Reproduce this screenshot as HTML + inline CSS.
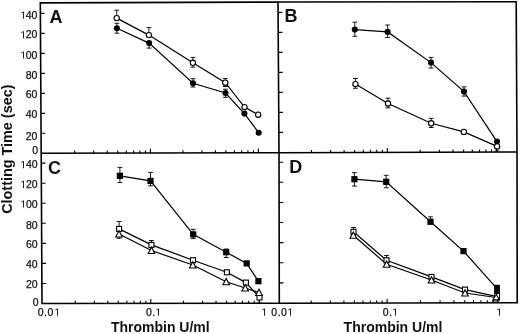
<!DOCTYPE html>
<html><head><meta charset="utf-8"><style>
html,body{margin:0;padding:0;background:#fff;width:520px;height:334px;overflow:hidden}
svg{display:block;filter:grayscale(1)}
text{font-family:"Liberation Sans",sans-serif}
</style></head><body>
<svg width="520" height="334" viewBox="0 0 520 334">
<rect width="520" height="334" fill="#fff"/>
<g font-family="Liberation Sans, sans-serif" fill="#111" stroke="#111" stroke-width="0.25"><text x="25.72 31.56" y="18.80" font-size="10.5">40</text><text x="25.72 31.56" y="38.40" font-size="10.5">20</text><text x="25.72 31.56" y="58.60" font-size="10.5">00</text><text x="25.72 31.56" y="78.50" font-size="10.5">80</text><text x="25.72 31.56" y="98.00" font-size="10.5">60</text><text x="25.72 31.56" y="118.00" font-size="10.5">40</text><text x="25.72 31.56" y="139.50" font-size="10.5">20</text><text x="32.36" y="154.30" font-size="10.5">0</text><text x="26.02 31.86" y="168.30" font-size="10.5">40</text><text x="26.02 31.86" y="188.00" font-size="10.5">20</text><text x="26.02 31.86" y="207.60" font-size="10.5">00</text><text x="26.02 31.86" y="228.90" font-size="10.5">80</text><text x="26.02 31.86" y="248.20" font-size="10.5">60</text><text x="26.02 31.86" y="268.20" font-size="10.5">40</text><text x="26.02 31.86" y="288.40" font-size="10.5">20</text><text x="32.76" y="305.60" font-size="10.5">0</text><text x="37.73 44.07 47.49" y="315.80" font-size="10.5">0.0</text><text x="145.90 152.24" y="315.80" font-size="10.5">0.</text><text x="271.33 277.67 281.09" y="315.80" font-size="10.5">0.0</text><text x="382.80 389.14" y="315.80" font-size="10.5">0.</text><text x="49.60" y="22.80" font-size="18" text-anchor="start" font-weight="bold" stroke="none">A</text><text x="284.60" y="21.60" font-size="18" text-anchor="start" font-weight="bold" stroke="none">B</text><text x="48.00" y="173.60" font-size="18" text-anchor="start" font-weight="bold" stroke="none">C</text><text x="289.20" y="173.00" font-size="18" text-anchor="start" font-weight="bold" stroke="none">D</text><text x="160.30" y="331.90" font-size="14" text-anchor="middle" font-weight="bold" stroke="none">Thrombin U/ml</text><text x="393.00" y="331.50" font-size="14" text-anchor="middle" font-weight="bold" stroke="none">Thrombin U/ml</text><text x="0" y="0" font-size="14.4" font-weight="bold" stroke="none" text-anchor="middle" transform="translate(11.8,149.2) rotate(-90)">Clotting Time (sec)</text></g>
<g fill="#111" stroke="#111" stroke-width="0.25"><path transform="translate(20.28,18.80) scale(0.005127,-0.005127)" d="M530,0 L530,1237 L197,1010 L197,1180 L540,1409 L711,1409 L711,0 Z"/><path transform="translate(20.28,38.40) scale(0.005127,-0.005127)" d="M530,0 L530,1237 L197,1010 L197,1180 L540,1409 L711,1409 L711,0 Z"/><path transform="translate(20.28,58.60) scale(0.005127,-0.005127)" d="M530,0 L530,1237 L197,1010 L197,1180 L540,1409 L711,1409 L711,0 Z"/><path transform="translate(20.28,168.30) scale(0.005127,-0.005127)" d="M530,0 L530,1237 L197,1010 L197,1180 L540,1409 L711,1409 L711,0 Z"/><path transform="translate(20.28,188.00) scale(0.005127,-0.005127)" d="M530,0 L530,1237 L197,1010 L197,1180 L540,1409 L711,1409 L711,0 Z"/><path transform="translate(20.28,207.60) scale(0.005127,-0.005127)" d="M530,0 L530,1237 L197,1010 L197,1180 L540,1409 L711,1409 L711,0 Z"/><path transform="translate(54.28,315.80) scale(0.005127,-0.005127)" d="M530,0 L530,1237 L197,1010 L197,1180 L540,1409 L711,1409 L711,0 Z"/><path transform="translate(155.28,315.80) scale(0.005127,-0.005127)" d="M530,0 L530,1237 L197,1010 L197,1180 L540,1409 L711,1409 L711,0 Z"/><path transform="translate(261.28,315.80) scale(0.005127,-0.005127)" d="M530,0 L530,1237 L197,1010 L197,1180 L540,1409 L711,1409 L711,0 Z"/><path transform="translate(287.28,315.80) scale(0.005127,-0.005127)" d="M530,0 L530,1237 L197,1010 L197,1180 L540,1409 L711,1409 L711,0 Z"/><path transform="translate(392.28,315.80) scale(0.005127,-0.005127)" d="M530,0 L530,1237 L197,1010 L197,1180 L540,1409 L711,1409 L711,0 Z"/><path transform="translate(496.28,315.80) scale(0.005127,-0.005127)" d="M530,0 L530,1237 L197,1010 L197,1180 L540,1409 L711,1409 L711,0 Z"/></g>
<path d="M41.08,133.31L45.28,133.31M40.96,113.33L45.16,113.33M40.84,93.34L45.04,93.34M40.72,73.36L44.92,73.36M40.60,53.37L44.80,53.37M40.48,33.38L44.68,33.38M40.36,13.40L44.56,13.40M278.87,132.40L283.07,132.40M278.73,112.40L282.93,112.40M278.60,92.40L282.80,92.40M278.47,72.40L282.67,72.40M278.33,52.40L282.53,52.40M278.20,32.40L282.40,32.40M278.07,12.40L282.27,12.40M41.89,283.45L46.09,283.45M41.79,263.40L45.99,263.40M41.68,243.35L45.88,243.35M41.57,223.30L45.77,223.30M41.47,203.25L45.67,203.25M41.36,183.20L45.56,183.20M41.25,163.15L45.45,163.15M279.26,282.89L283.46,282.89M279.22,262.77L283.42,262.77M279.18,242.66L283.38,242.66M279.14,222.54L283.34,222.54M279.10,202.43L283.30,202.43M279.06,182.32L283.26,182.32M279.02,162.20L283.22,162.20M74.63,153.22L74.63,150.62M93.72,153.17L93.72,150.57M107.26,153.13L107.26,150.53M117.77,153.11L117.77,150.51M126.35,153.09L126.35,150.49M133.61,153.07L133.61,150.47M139.89,153.05L139.89,150.45M145.44,153.04L145.44,150.44M150.40,153.02L150.40,148.72M182.91,152.94L182.91,150.34M201.93,152.89L201.93,150.29M215.42,152.86L215.42,150.26M225.89,152.83L225.89,150.23M234.44,152.81L234.44,150.21M241.67,152.79L241.67,150.19M247.93,152.78L247.93,150.18M253.46,152.76L253.46,150.16M258.40,152.75L258.40,148.45M311.46,152.60L311.46,150.00M330.57,152.55L330.57,149.95M344.12,152.51L344.12,149.91M354.64,152.48L354.64,149.88M363.23,152.45L363.23,149.85M370.49,152.43L370.49,149.83M376.79,152.41L376.79,149.81M382.34,152.40L382.34,149.80M387.30,152.38L387.30,148.08M420.17,152.28L420.17,149.68M439.40,152.23L439.40,149.63M453.04,152.19L453.04,149.59M463.63,152.16L463.63,149.56M472.27,152.13L472.27,149.53M479.58,152.11L479.58,149.51M485.92,152.09L485.92,149.49M491.50,152.07L491.50,149.47M496.50,152.06L496.50,147.76M75.31,303.46L75.31,300.86M94.33,303.43L94.33,300.83M107.82,303.42L107.82,300.82M118.29,303.40L118.29,300.80M126.84,303.39L126.84,300.79M134.07,303.38L134.07,300.78M140.33,303.38L140.33,300.78M145.86,303.37L145.86,300.77M150.80,303.36L150.80,299.06M183.43,303.32L183.43,300.72M202.52,303.30L202.52,300.70M216.06,303.28L216.06,300.68M226.57,303.27L226.57,300.67M235.15,303.26L235.15,300.66M242.41,303.25L242.41,300.65M248.69,303.24L248.69,300.64M254.24,303.23L254.24,300.63M259.20,303.23L259.20,298.93M311.19,303.15L311.19,300.55M330.32,303.11L330.32,300.51M343.88,303.09L343.88,300.49M354.41,303.07L354.41,300.47M363.01,303.06L363.01,300.46M370.28,303.05L370.28,300.45M376.58,303.04L376.58,300.44M382.13,303.03L382.13,300.43M387.10,303.02L387.10,298.72M420.51,302.96L420.51,300.36M440.06,302.93L440.06,300.33M453.93,302.91L453.93,300.31M464.69,302.89L464.69,300.29M473.47,302.87L473.47,300.27M480.91,302.86L480.91,300.26M487.34,302.85L487.34,300.25M493.02,302.84L493.02,300.24M498.10,302.83L498.10,298.53" stroke="#000" stroke-width="1.1" fill="none"/>
<path d="M40.3,2.9 L278.0,2.05 L516.2,1.75 L517.0,152.0 L517.2,302.8 L279.3,303.2 L42.0,303.5 L41.2,153.3 Z M41.2,153.3 L279.0,152.7 L517.0,152.0 M278.0,2.05 L279.0,152.7 L279.3,303.2" fill="none" stroke="#000" stroke-width="1.6" stroke-linejoin="miter"/>
<g><path d="M116.70,18.10 L148.90,35.10 L192.90,62.80 L225.30,82.70 L244.50,107.10 L258.20,114.70" fill="none" stroke="#000" stroke-width="1.2"/><path d="M116.90,28.30 L149.10,43.10 L193.00,83.20 L225.50,93.00 L244.40,113.60 L258.70,132.70" fill="none" stroke="#000" stroke-width="1.2"/><path d="M354.80,29.60 L387.60,31.90 L431.00,62.60 L464.00,91.60 L497.00,141.60" fill="none" stroke="#000" stroke-width="1.2"/><path d="M355.40,84.10 L388.00,103.50 L431.20,123.30 L463.90,131.90 L497.10,146.40" fill="none" stroke="#000" stroke-width="1.2"/><path d="M119.90,175.80 L150.50,180.90 L193.20,234.40 L226.20,252.20 L246.70,263.40 L258.40,281.20" fill="none" stroke="#000" stroke-width="1.2"/><path d="M119.10,228.90 L151.40,244.90 L193.00,260.20 L226.90,272.30 L245.90,282.60 L259.50,297.50" fill="none" stroke="#000" stroke-width="1.2"/><path d="M119.00,234.00 L151.50,250.50 L192.80,265.00 L226.20,281.70 L245.20,288.00 L259.00,292.50" fill="none" stroke="#000" stroke-width="1.2"/><path d="M354.40,179.20 L386.20,181.80 L430.50,221.80 L463.50,251.10 L497.00,288.70" fill="none" stroke="#000" stroke-width="1.2"/><path d="M353.50,231.80 L386.50,260.30 L431.50,276.90 L465.00,289.60 L497.00,296.60" fill="none" stroke="#000" stroke-width="1.2"/><path d="M353.30,235.30 L386.60,264.30 L431.50,280.00 L465.00,293.00 L496.20,297.50" fill="none" stroke="#000" stroke-width="1.2"/></g>
<path d="M116.70,18.10L116.70,10.20M114.30,10.20L119.10,10.20M148.90,35.10L148.90,27.60M146.50,27.60L151.30,27.60M192.90,62.80L192.90,57.40M190.50,57.40L195.30,57.40M192.90,62.80L192.90,67.20M190.50,67.20L195.30,67.20M225.30,82.70L225.30,78.50M222.90,78.50L227.70,78.50M225.30,82.70L225.30,86.50M222.90,86.50L227.70,86.50M116.90,28.30L116.90,23.30M114.50,23.30L119.30,23.30M116.90,28.30L116.90,33.20M114.50,33.20L119.30,33.20M149.10,43.10L149.10,48.10M146.70,48.10L151.50,48.10M193.00,83.20L193.00,78.70M190.60,78.70L195.40,78.70M193.00,83.20L193.00,87.00M190.60,87.00L195.40,87.00M225.50,93.00L225.50,89.20M223.10,89.20L227.90,89.20M225.50,93.00L225.50,97.30M223.10,97.30L227.90,97.30M354.80,29.60L354.80,22.20M352.40,22.20L357.20,22.20M354.80,29.60L354.80,36.30M352.40,36.30L357.20,36.30M387.60,31.90L387.60,25.00M385.20,25.00L390.00,25.00M387.60,31.90L387.60,37.50M385.20,37.50L390.00,37.50M431.00,62.60L431.00,57.40M428.60,57.40L433.40,57.40M431.00,62.60L431.00,68.10M428.60,68.10L433.40,68.10M464.00,91.60L464.00,86.80M461.60,86.80L466.40,86.80M464.00,91.60L464.00,96.10M461.60,96.10L466.40,96.10M355.40,84.10L355.40,78.50M353.00,78.50L357.80,78.50M355.40,84.10L355.40,88.30M353.00,88.30L357.80,88.30M388.00,103.50L388.00,98.20M385.60,98.20L390.40,98.20M388.00,103.50L388.00,107.80M385.60,107.80L390.40,107.80M431.20,123.30L431.20,118.40M428.80,118.40L433.60,118.40M431.20,123.30L431.20,127.50M428.80,127.50L433.60,127.50M497.10,146.40L497.10,151.00M494.70,151.00L499.50,151.00M119.90,175.80L119.90,167.40M117.50,167.40L122.30,167.40M119.90,175.80L119.90,182.60M117.50,182.60L122.30,182.60M150.50,180.90L150.50,172.40M148.10,172.40L152.90,172.40M150.50,180.90L150.50,185.80M148.10,185.80L152.90,185.80M193.20,234.40L193.20,229.30M190.80,229.30L195.60,229.30M193.20,234.40L193.20,238.60M190.80,238.60L195.60,238.60M226.20,252.20L226.20,249.00M223.80,249.00L228.60,249.00M226.20,252.20L226.20,257.50M223.80,257.50L228.60,257.50M119.10,228.90L119.10,221.50M116.70,221.50L121.50,221.50M151.40,244.90L151.40,240.50M149.00,240.50L153.80,240.50M259.50,297.50L259.50,303.00M257.10,303.00L261.90,303.00M119.00,234.00L119.00,238.30M116.60,238.30L121.40,238.30M354.40,179.20L354.40,172.60M352.00,172.60L356.80,172.60M354.40,179.20L354.40,186.10M352.00,186.10L356.80,186.10M386.20,181.80L386.20,175.30M383.80,175.30L388.60,175.30M386.20,181.80L386.20,187.80M383.80,187.80L388.60,187.80M430.50,221.80L430.50,216.80M428.10,216.80L432.90,216.80M353.50,231.80L353.50,227.50M351.10,227.50L355.90,227.50M386.50,260.30L386.50,255.50M384.10,255.50L388.90,255.50" stroke="#000" stroke-width="0.9" fill="none"/>
<g><circle cx="116.70" cy="18.10" r="2.65" fill="#fff" stroke="#000" stroke-width="1.1"/><circle cx="148.90" cy="35.10" r="2.65" fill="#fff" stroke="#000" stroke-width="1.1"/><circle cx="192.90" cy="62.80" r="2.65" fill="#fff" stroke="#000" stroke-width="1.1"/><circle cx="225.30" cy="82.70" r="2.65" fill="#fff" stroke="#000" stroke-width="1.1"/><circle cx="244.50" cy="107.10" r="2.65" fill="#fff" stroke="#000" stroke-width="1.1"/><circle cx="258.20" cy="114.70" r="2.65" fill="#fff" stroke="#000" stroke-width="1.1"/><circle cx="116.90" cy="28.30" r="3.05" fill="#000"/><circle cx="149.10" cy="43.10" r="3.05" fill="#000"/><circle cx="193.00" cy="83.20" r="3.05" fill="#000"/><circle cx="225.50" cy="93.00" r="3.05" fill="#000"/><circle cx="244.40" cy="113.60" r="3.05" fill="#000"/><circle cx="258.70" cy="132.70" r="3.05" fill="#000"/><circle cx="354.80" cy="29.60" r="3.05" fill="#000"/><circle cx="387.60" cy="31.90" r="3.05" fill="#000"/><circle cx="431.00" cy="62.60" r="3.05" fill="#000"/><circle cx="464.00" cy="91.60" r="3.05" fill="#000"/><circle cx="497.00" cy="141.60" r="3.05" fill="#000"/><circle cx="355.40" cy="84.10" r="2.65" fill="#fff" stroke="#000" stroke-width="1.1"/><circle cx="388.00" cy="103.50" r="2.65" fill="#fff" stroke="#000" stroke-width="1.1"/><circle cx="431.20" cy="123.30" r="2.65" fill="#fff" stroke="#000" stroke-width="1.1"/><circle cx="463.90" cy="131.90" r="2.65" fill="#fff" stroke="#000" stroke-width="1.1"/><circle cx="497.10" cy="146.40" r="2.65" fill="#fff" stroke="#000" stroke-width="1.1"/><rect x="116.80" y="172.70" width="6.2" height="6.2" fill="#000"/><rect x="147.40" y="177.80" width="6.2" height="6.2" fill="#000"/><rect x="190.10" y="231.30" width="6.2" height="6.2" fill="#000"/><rect x="223.10" y="249.10" width="6.2" height="6.2" fill="#000"/><rect x="243.60" y="260.30" width="6.2" height="6.2" fill="#000"/><rect x="255.30" y="278.10" width="6.2" height="6.2" fill="#000"/><rect x="116.60" y="226.40" width="5.0" height="5.0" fill="#fff" stroke="#000" stroke-width="1.1"/><rect x="148.90" y="242.40" width="5.0" height="5.0" fill="#fff" stroke="#000" stroke-width="1.1"/><rect x="190.50" y="257.70" width="5.0" height="5.0" fill="#fff" stroke="#000" stroke-width="1.1"/><rect x="224.40" y="269.80" width="5.0" height="5.0" fill="#fff" stroke="#000" stroke-width="1.1"/><rect x="243.40" y="280.10" width="5.0" height="5.0" fill="#fff" stroke="#000" stroke-width="1.1"/><rect x="257.00" y="295.00" width="5.0" height="5.0" fill="#fff" stroke="#000" stroke-width="1.1"/><path d="M119.00,230.70 L122.30,237.00 L115.70,237.00 Z" fill="#fff" stroke="#000" stroke-width="1.1" stroke-linejoin="miter"/><path d="M151.50,247.20 L154.80,253.50 L148.20,253.50 Z" fill="#fff" stroke="#000" stroke-width="1.1" stroke-linejoin="miter"/><path d="M192.80,261.70 L196.10,268.00 L189.50,268.00 Z" fill="#fff" stroke="#000" stroke-width="1.1" stroke-linejoin="miter"/><path d="M226.20,278.40 L229.50,284.70 L222.90,284.70 Z" fill="#fff" stroke="#000" stroke-width="1.1" stroke-linejoin="miter"/><path d="M245.20,284.70 L248.50,291.00 L241.90,291.00 Z" fill="#fff" stroke="#000" stroke-width="1.1" stroke-linejoin="miter"/><path d="M259.00,289.20 L262.30,295.50 L255.70,295.50 Z" fill="#fff" stroke="#000" stroke-width="1.1" stroke-linejoin="miter"/><rect x="351.30" y="176.10" width="6.2" height="6.2" fill="#000"/><rect x="383.10" y="178.70" width="6.2" height="6.2" fill="#000"/><rect x="427.40" y="218.70" width="6.2" height="6.2" fill="#000"/><rect x="460.40" y="248.00" width="6.2" height="6.2" fill="#000"/><rect x="351.00" y="229.30" width="5.0" height="5.0" fill="#fff" stroke="#000" stroke-width="1.1"/><rect x="384.00" y="257.80" width="5.0" height="5.0" fill="#fff" stroke="#000" stroke-width="1.1"/><rect x="429.00" y="274.40" width="5.0" height="5.0" fill="#fff" stroke="#000" stroke-width="1.1"/><rect x="462.50" y="287.10" width="5.0" height="5.0" fill="#fff" stroke="#000" stroke-width="1.1"/><path d="M353.30,232.00 L356.60,238.30 L350.00,238.30 Z" fill="#fff" stroke="#000" stroke-width="1.1" stroke-linejoin="miter"/><path d="M386.60,261.00 L389.90,267.30 L383.30,267.30 Z" fill="#fff" stroke="#000" stroke-width="1.1" stroke-linejoin="miter"/><path d="M431.50,276.70 L434.80,283.00 L428.20,283.00 Z" fill="#fff" stroke="#000" stroke-width="1.1" stroke-linejoin="miter"/><path d="M465.00,289.70 L468.30,296.00 L461.70,296.00 Z" fill="#fff" stroke="#000" stroke-width="1.1" stroke-linejoin="miter"/><rect x="494.1" y="284.8" width="5.8" height="8.4" fill="#000"/><rect x="494.5" y="293.4" width="5.0" height="6.5" fill="#fff" stroke="#000" stroke-width="1.0"/><path d="M496.4,294.3 L499.2,299.9 L492.8,299.9 Z" fill="#fff" stroke="#000" stroke-width="1.1"/><path d="M492.6,302.0 L498.2,302.0 M493.0,300.2 L493.0,302.0 M497.8,300.2 L497.8,302.0" stroke="#000" stroke-width="0.8" fill="none"/></g>
</svg>
</body></html>
